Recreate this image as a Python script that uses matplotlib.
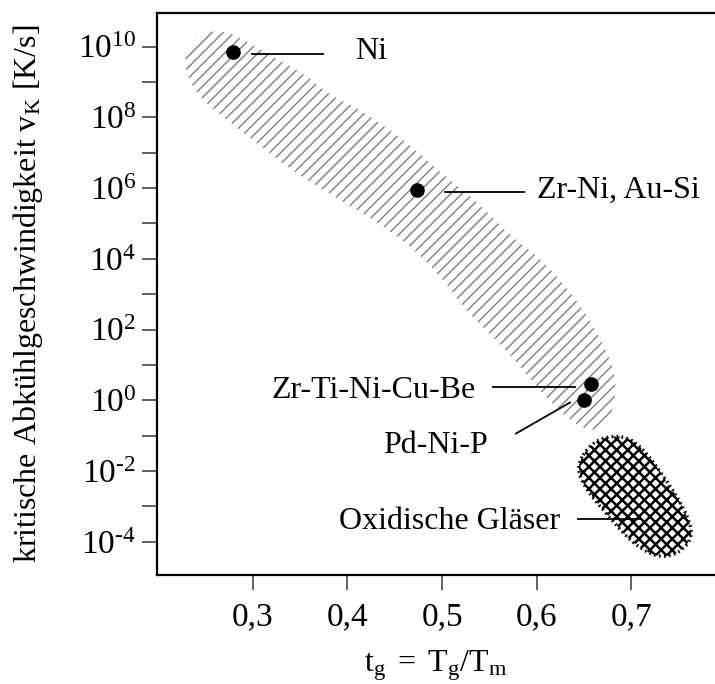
import numpy as np
import matplotlib
matplotlib.use("Agg")
import matplotlib.pyplot as plt
from matplotlib.patches import Polygon

plt.rcParams['font.family'] = ['Liberation Serif', 'DejaVu Serif']
plt.rcParams['mathtext.fontset'] = 'custom'
plt.rcParams['mathtext.rm'] = 'Liberation Serif'
plt.rcParams['mathtext.it'] = 'Liberation Serif:italic'

# alloys (x = t_g, y = log10 of critical cooling rate)
alloy_names = ["Ni", "Zr-Ni, Au-Si", "Zr-Ti-Ni-Cu-Be", "Pd-Ni-P"]
alloy_tg = [0.279, 0.473, 0.657, 0.650]
alloy_logv = [9.86, 5.94, 0.47, 0.01]

# metallic glass band outline (t_g, log10 v_K)
metal_tg = [0.2270, 0.2412, 0.2686, 0.2971, 0.3288, 0.3531, 0.3816, 0.4101, 0.4376,
            0.4661, 0.5052, 0.5326, 0.5748, 0.6034, 0.6319, 0.6550, 0.6760, 0.6840,
            0.6810, 0.6660, 0.6530, 0.6319, 0.6171, 0.6034, 0.5686, 0.5221, 0.5052,
            0.4693, 0.4292, 0.3890, 0.3531, 0.3183, 0.2834, 0.2475, 0.2320]
metal_logv = [9.72, 10.35, 10.48, 10.10, 9.60, 9.25, 8.63, 8.26, 7.78,
              7.22, 6.28, 5.72, 4.59, 4.02, 3.18, 2.33, 1.28, 0.55,
              -0.35, -0.80, -0.85, -0.50, -0.10, 0.27, 1.40, 2.62, 3.29,
              4.31, 5.07, 5.72, 6.29, 6.97, 7.70, 8.46, 9.05]

# oxide glasses outline
oxide_tg = [0.6410, 0.6593, 0.6878, 0.7100, 0.7415, 0.7596, 0.7650, 0.7490,
            0.7269, 0.7010, 0.6763, 0.6520]
oxide_logv = [-1.86, -1.14, -0.97, -1.27, -2.43, -3.28, -3.88, -4.35,
              -4.45, -4.04, -3.30, -2.53]


def chaikin(x, y, n=3):
    p = np.column_stack([x, y])
    for _ in range(n):
        q = np.roll(p, -1, axis=0)
        p = np.column_stack([0.75 * p + 0.25 * q, 0.25 * p + 0.75 * q]).reshape(-1, 2)
    return p


fig = plt.figure(figsize=(7.15, 6.84), dpi=100)
ax = fig.add_axes([157 / 715, 1 - 575 / 684, 1 - 157 / 715, (575 - 13) / 684])
ax.set_yscale('log')

pm = chaikin(metal_tg, metal_logv)
plt.rcParams['hatch.linewidth'] = 1.0
band = Polygon(np.column_stack([pm[:, 0], 10 ** pm[:, 1]]), closed=True,
               facecolor='none', edgecolor='#7f7f7f', hatch='///', linewidth=0)
if hasattr(band, 'set_hatch_linewidth'):
    band.set_hatch_linewidth(1.0)
ax.add_patch(band)

po = chaikin(oxide_tg, oxide_logv)
plt.rcParams['hatch.linewidth'] = 1.8
oxide = Polygon(np.column_stack([po[:, 0], 10 ** po[:, 1]]), closed=True,
                facecolor='none', edgecolor='black', hatch='xxx',
                linewidth=2.4, linestyle=(0, (0.5, 1.0)))
if hasattr(oxide, 'set_hatch_linewidth'):
    oxide.set_hatch_linewidth(1.8)
ax.add_patch(oxide)

ax.plot(alloy_tg, 10 ** np.array(alloy_logv), 'o', color='black', markersize=9.5,
        zorder=5)

# labels: text, text anchor, line start, line end
notes = [
    ("Ni", (0.408, 9.86), 'left', (0.2993, 9.78), (0.3742, 9.78)),
    ("Zr-Ni, Au-Si", (0.600, 5.93), 'left', (0.503, 5.88), (0.586, 5.88)),
    ("Zr-Ti-Ni-Cu-Be", (0.535, 0.27), 'right', (0.5538, 0.376), (0.6404, 0.376)),
    ("Pd-Ni-P", (0.548, -1.27), 'right', (0.578, -0.94), (0.635, -0.065)),
    ("Oxidische Gläser", (0.6245, -3.42), 'right', (0.644, -3.36), (0.709, -3.36)),
]
for txt, (tx, ty), ha, (x0, y0), (x1, y1) in notes:
    ax.plot([x0, x1], [10 ** y0, 10 ** y1], color='black', linewidth=1.3, zorder=4)
    ax.text(tx, 10 ** ty, txt, ha=ha, va='center', fontsize=23)

ax.set_xlim(0.1989, 0.7882)
ax.set_ylim(10 ** -4.94, 10 ** 10.95)

ax.set_xticks([0.3, 0.4, 0.5, 0.6, 0.7])
ax.set_xticklabels(["0,3", "0,4", "0,5", "0,6", "0,7"])
ymaj = [-4, -2, 0, 2, 4, 6, 8, 10]
ax.set_yticks([10.0 ** e for e in ymaj])
ax.set_yticklabels([r'$\mathregular{10^{%s}}$' % str(e).replace('-', '\u2010')
                    for e in ymaj])
ax.set_yticks([10.0 ** e for e in [-3, -1, 1, 3, 5, 7, 9]], minor=True)
ax.yaxis.set_minor_formatter(plt.NullFormatter())

ax.tick_params(axis='both', which='both', direction='out', length=11, width=1.2,
               color='#444444', labelsize=24)
ax.tick_params(axis='y', pad=4)
ax.tick_params(axis='x', pad=8)

ax.spines['right'].set_visible(False)
for s in ['left', 'top', 'bottom']:
    ax.spines[s].set_linewidth(1.6)

ax.set_xlabel(r'$\mathregular{t_g\ =\ T_g/T_m}$', fontsize=23, labelpad=12)
ax.set_ylabel(r'kritische Abkühlgeschwindigkeit $\mathregular{v_K}$ [K/s]',
              fontsize=23, labelpad=24)

fig.savefig("out.png", dpi=100)
